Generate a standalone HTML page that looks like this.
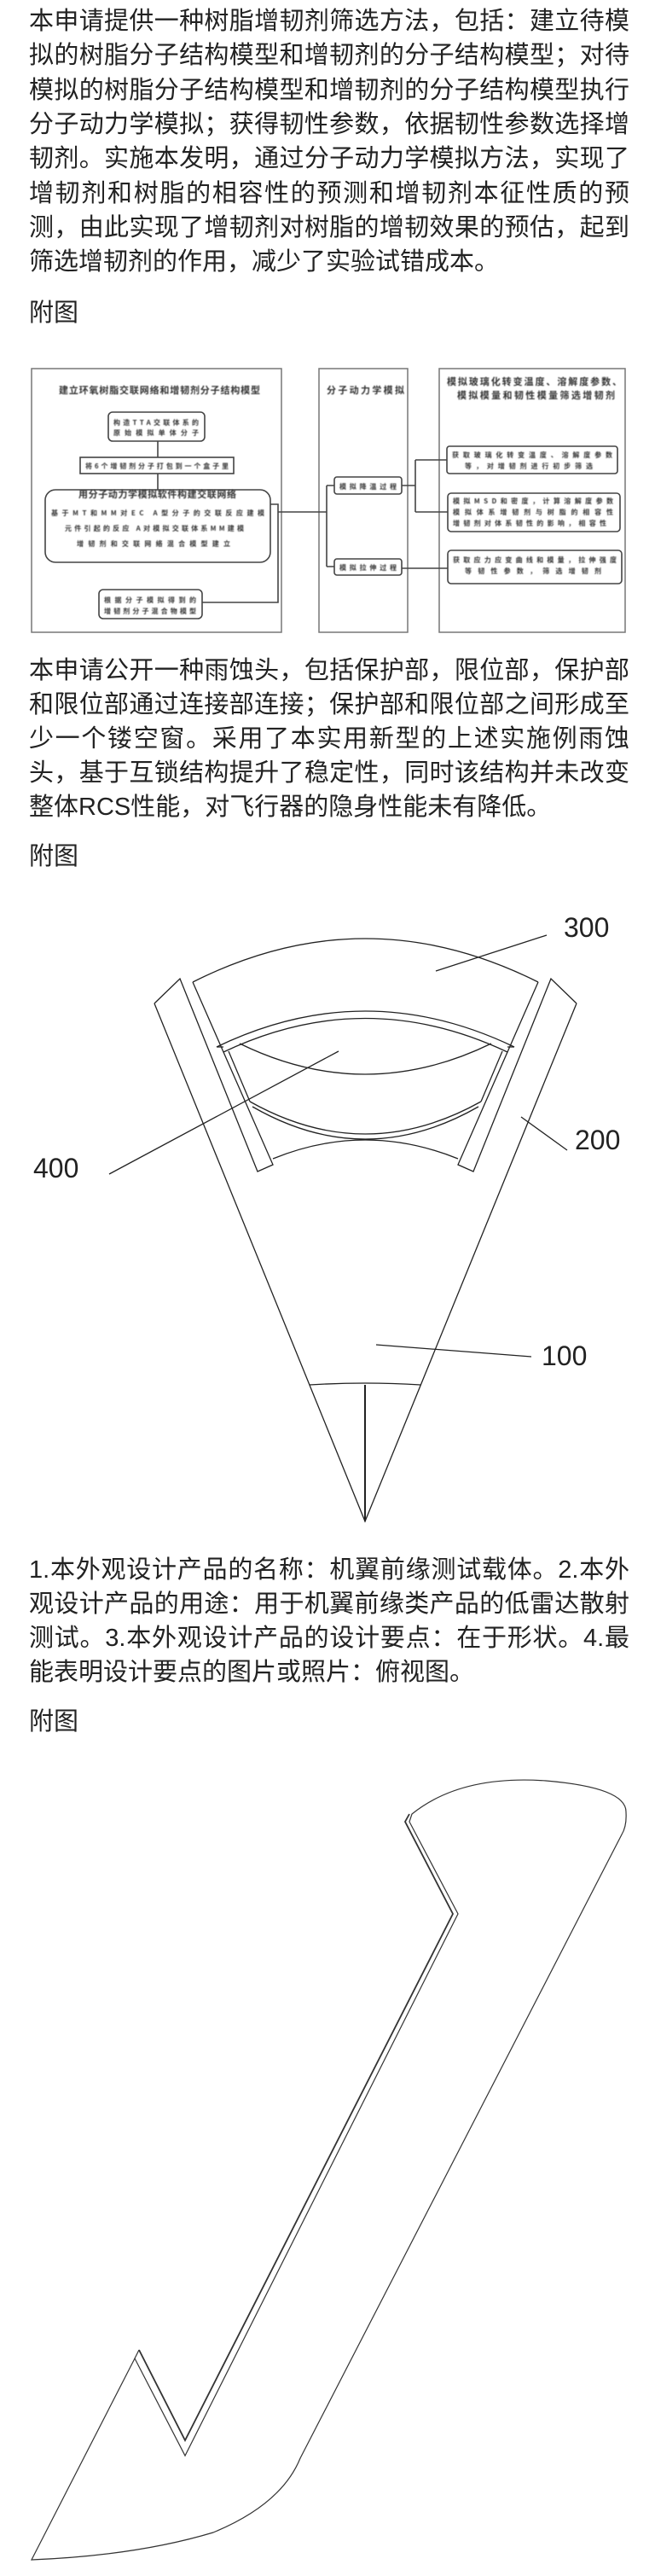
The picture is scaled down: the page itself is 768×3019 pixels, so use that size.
<!DOCTYPE html>
<html><head><meta charset="utf-8"><style>
html,body{margin:0;padding:0;background:#fff}
body{width:768px;height:3019px;position:relative;overflow:hidden;font-family:"Liberation Sans","Noto Sans CJK SC",sans-serif;color:#222}
.l{position:absolute;left:34px;width:704px;height:40px;line-height:40px;font-size:29px;white-space:nowrap;text-align:justify;text-align-last:justify}
.n{text-align-last:auto}
.f{position:absolute;left:0;top:0}
.bt{font-family:"Noto Sans CJK SC",sans-serif;fill:#333;filter:url(#bl)}
</style></head><body>
<div class="l" style="top:5px">本申请提供一种树脂增韧剂筛选方法，包括：建立待模</div>
<div class="l" style="top:45px">拟的树脂分子结构模型和增韧剂的分子结构模型；对待</div>
<div class="l" style="top:86px">模拟的树脂分子结构模型和增韧剂的分子结构模型执行</div>
<div class="l" style="top:126px">分子动力学模拟；获得韧性参数，依据韧性参数选择增</div>
<div class="l" style="top:166px">韧剂。实施本发明，通过分子动力学模拟方法，实现了</div>
<div class="l" style="top:207px">增韧剂和树脂的相容性的预测和增韧剂本征性质的预</div>
<div class="l" style="top:247px">测，由此实现了增韧剂对树脂的增韧效果的预估，起到</div>
<div class="l n" style="top:287px">筛选增韧剂的作用，减少了实验试错成本。</div>
<div class="l n" style="top:347px">附图</div>

<svg class="f" width="768" height="3019" viewBox="0 0 768 3019">
<defs><filter id="bl"><feGaussianBlur stdDeviation="0.6"/></filter></defs>
<g fill="none" stroke="#777" stroke-width="1.5">
<rect x="37" y="432" width="293" height="309"/>
<rect x="374" y="432" width="104" height="309"/>
<rect x="515" y="432" width="218" height="309"/>
</g>
<g fill="none" stroke="#444" stroke-width="1.6">
<rect x="127" y="483" width="113" height="34" rx="5"/>
<rect x="94" y="536" width="180" height="19"/>
<rect x="53" y="574" width="264" height="85" rx="12"/>
<rect x="116" y="691" width="121" height="34" rx="5"/>
<rect x="392" y="559" width="79" height="20" rx="3"/>
<rect x="392" y="655" width="79" height="19" rx="3"/>
<rect x="524" y="523" width="200" height="32" rx="3"/>
<rect x="525" y="578" width="202" height="45" rx="4"/>
<rect x="525" y="645" width="204" height="39" rx="4"/>
<path d="M185 517V536M185 555V574M317 591H326V706H237M326 600H383M383 569V664M383 569H392M383 664H392M471 569H487M487 539V600M487 539H524M487 600H525M471 666H525"/>
</g>
<g class="bt" font-size="11" font-weight="bold">
<text x="69" y="461" textLength="236">建立环氧树脂交联网络和增韧剂分子结构模型</text>
<text x="383" y="461" textLength="91">分子动力学模拟</text>
<text x="524" y="451" textLength="205">模拟玻璃化转变温度、溶解度参数、</text>
<text x="536" y="467" textLength="185">模拟模量和韧性模量筛选增韧剂</text>
<text x="92" y="583" textLength="185">用分子动力学模拟软件构建交联网络</text>
</g>
<g class="bt" font-size="8" font-weight="bold">
<text x="133" y="498" textLength="100">构造TTA交联体系的</text>
<text x="133" y="510" textLength="100">原始模拟单体分子</text>
<text x="100" y="549" textLength="168">将6个增韧剂分子打包到一个盒子里</text>
<text x="60" y="604" textLength="250">基于MT和MM对EC A型分子的交联反应建模</text>
<text x="76" y="622" textLength="210">元件引起的反应 A对模拟交联体系MM建模</text>
<text x="90" y="640" textLength="180">增韧剂和交联网络混合模型建立</text>
<text x="122" y="706" textLength="108">根据分子模拟得到的</text>
<text x="122" y="719" textLength="108">增韧剂分子混合物模型</text>
<text x="398" y="573" textLength="67">模拟降温过程</text>
<text x="398" y="668" textLength="67">模拟拉伸过程</text>
<text x="530" y="536" textLength="188">获取玻璃化转变温度、溶解度参数</text>
<text x="545" y="549" textLength="150">等，对增韧剂进行初步筛选</text>
<text x="531" y="590" textLength="188">模拟MSD和密度，计算溶解度参数</text>
<text x="531" y="603" textLength="188">模拟体系增韧剂与树脂的相容性</text>
<text x="531" y="616" textLength="180">增韧剂对体系韧性的影响，相容性</text>
<text x="531" y="659" textLength="192">获取应力应变曲线和模量，拉伸强度</text>
<text x="545" y="672" textLength="160">等韧性参数，筛选增韧剂</text>
</g>
</svg>

<div class="l" style="top:766px">本申请公开一种雨蚀头，包括保护部，限位部，保护部</div>
<div class="l" style="top:806px">和限位部通过连接部连接；保护部和限位部之间形成至</div>
<div class="l" style="top:846px">少一个镂空窗。采用了本实用新型的上述实施例雨蚀</div>
<div class="l" style="top:886px">头，基于互锁结构提升了稳定性，同时该结构并未改变</div>
<div class="l n" style="top:926px">整体RCS性能，对飞行器的隐身性能未有降低。</div>
<div class="l n" style="top:984px">附图</div>

<svg class="f" width="768" height="3019" viewBox="0 0 768 3019">
<g fill="none" stroke="#222" stroke-width="1.3">
<path d="M181 1176L211 1147L302 1373L320 1365L226 1151"/>
<path d="M676 1176L646 1147L555 1373L537 1365L631 1151"/>
<path d="M181 1176L428 1783L676 1176"/>
<path d="M226 1151Q428 1049 631 1151"/>
<path d="M254 1227Q428 1143 603 1227M262 1233Q428 1154 595 1233"/>
<path d="M254 1227H262M603 1227H595"/>
<path d="M281 1223Q428 1295 576 1223"/>
<path d="M268 1232L293 1291M589 1232L564 1291"/>
<path d="M293 1291Q428 1367 564 1291M296 1297Q428 1373 561 1297"/>
<path d="M320 1358Q428 1314 537 1358"/>
<path d="M363 1623Q428 1619 493 1623"/>
<path d="M428 1623V1783" stroke-width="2"/>
<path d="M511 1138L641 1096M611 1309L665 1348M397 1232L128 1376M441 1576L623 1590"/>
</g>
<g font-family="Liberation Sans,sans-serif" font-size="32" fill="#222">
<text x="661" y="1098">300</text>
<text x="674" y="1347">200</text>
<text x="39" y="1380">400</text>
<text x="635" y="1600">100</text>
</g>
</svg>

<div class="l" style="top:1820px">1.本外观设计产品的名称：机翼前缘测试载体。2.本外</div>
<div class="l" style="top:1860px">观设计产品的用途：用于机翼前缘类产品的低雷达散射</div>
<div class="l" style="top:1900px">测试。3.本外观设计产品的设计要点：在于形状。4.最</div>
<div class="l n" style="top:1940px">能表明设计要点的图片或照片：俯视图。</div>
<div class="l n" style="top:1998px">附图</div>

<svg class="f" width="768" height="3019" viewBox="0 0 768 3019">
<g fill="none" stroke="#333" stroke-width="1.2">
<path d="M37 3000L158 2764L217 2878L537 2243L480 2135L483 2126Q540 2080 640 2087Q735 2095 734 2124Q735 2140 729 2150L352 2881Q330 2935 250 2968Q160 2995 37 3000Z"/>
<path d="M163 2754L217 2860L531 2243L475 2135L480 2126" stroke-width="1.8"/>
<path d="M158 2764L163 2754"/>
</g>
</svg>
</body></html>
